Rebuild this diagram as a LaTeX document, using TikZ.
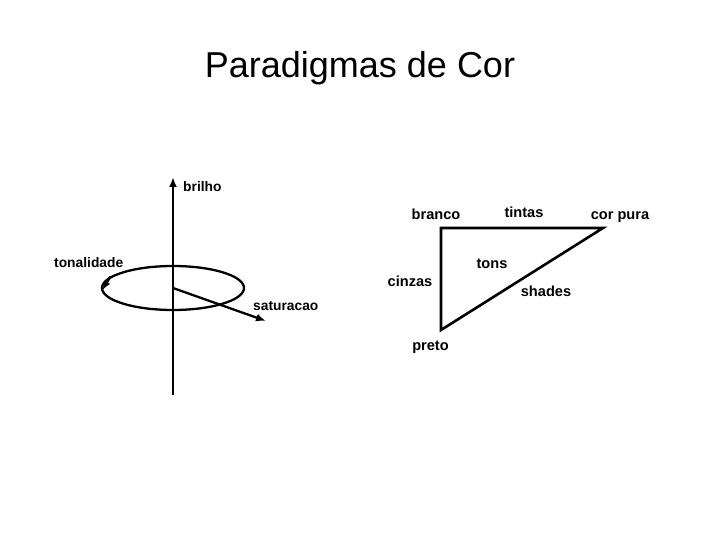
\documentclass[tikz,border=0pt]{standalone}
\usepackage{fontspec}
\setmainfont{Liberation Sans}
\usetikzlibrary{arrows.meta}
\begin{document}
\begin{tikzpicture}[x=1pt,y=-1pt,
  lbl/.style={font=\fontsize{13.8}{16}\selectfont\bfseries, inner sep=0pt, anchor=base west},
  lblr/.style={font=\fontsize{14.6}{17}\selectfont\bfseries, inner sep=0pt, anchor=base},
  thick line/.style={line width=2.6pt},
  tip/.style={-{Latex[length=10pt,width=8pt]}},
  smalltip/.style={-{Latex[length=9pt,width=7pt]}}]
\useasboundingbox (0,0) rectangle (720,540);
\node[font=\fontsize{36}{40}\selectfont] (title) at (360,68) {Paradigmas de Cor};
% left: HSV
\coordinate (axbot) at (173,395);
\coordinate (axtop) at (173,177);
\coordinate (c) at (173,288);
\coordinate (sat) at (266,321);
\coordinate (rotA) at (110.5,276.5);
\coordinate (rotB) at (102.5,290);
\draw[thick line, tip] (axbot) -- (axtop);
\node[lbl] (brilho) at (183,191.5) {brilho};
\draw[line width=2.3pt] (c) ellipse [x radius=71, y radius=22];
\draw[line width=2.3pt, smalltip] (rotA) -- (rotB);
\draw[line width=2.3pt, tip] (c) -- (sat);
\node[lbl] (tonal) at (54,267) {tonalidade};
\node[lbl] (satl) at (253,310) {saturacao};
% right: triangle
\coordinate (branco) at (441,228);
\coordinate (pura) at (603,228);
\coordinate (preto) at (441,330);
\draw[thick line, line join=miter] (branco) -- (pura) -- (preto) -- cycle;
\node[lblr] (lbranco) at (436,219.5) {branco};
\node[lblr] (ltintas) at (524,217.5) {tintas};
\node[lblr] (lpura) at (620,220) {cor pura};
\node[lblr] (ltons) at (492,268.3) {tons};
\node[lblr] (lcinzas) at (410,286) {cinzas};
\node[lblr] (lshades) at (546,296) {shades};
\node[lblr] (lpreto) at (430.5,350.5) {preto};
\end{tikzpicture}
\end{document}
